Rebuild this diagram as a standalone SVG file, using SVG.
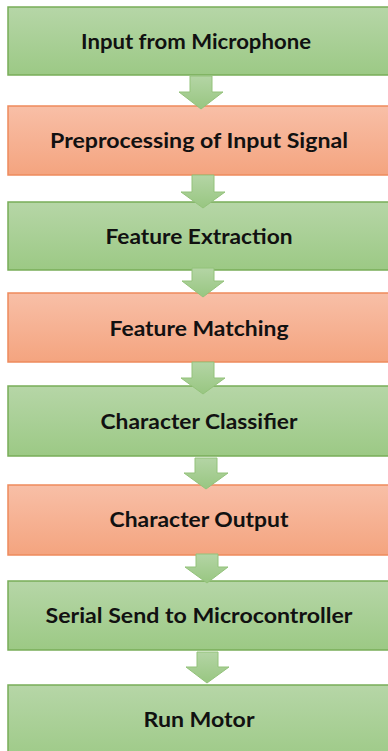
<svg xmlns="http://www.w3.org/2000/svg" width="388" height="751" viewBox="0 0 388 751">
<defs>
<linearGradient id="gG" x1="0" y1="0" x2="0" y2="1">
<stop offset="0" stop-color="#b6d6a7"/>
<stop offset="1" stop-color="#9cc985"/>
</linearGradient>
<linearGradient id="gO" x1="0" y1="0" x2="0" y2="1">
<stop offset="0" stop-color="#f8bfa7"/>
<stop offset="1" stop-color="#f4a47f"/>
</linearGradient>
<linearGradient id="gA" x1="0" y1="0" x2="0" y2="1">
<stop offset="0" stop-color="#b4d5a5"/>
<stop offset="1" stop-color="#98c681"/>
</linearGradient>
</defs>
<style>
.g{fill:url(#gG);stroke:#78ad58;stroke-width:1.5}
.o{fill:url(#gO);stroke:#ee8b5c;stroke-width:1.5}
.t{font-family:Lato,"Open Sans","Liberation Sans",sans-serif;font-weight:bold;font-size:21px;fill:#111;text-anchor:middle}
.a{fill:url(#gA);stroke:#93c27a;stroke-width:1}
</style>
<rect width="388" height="751" fill="#ffffff"/>
<g id="n1"><rect class="g" x="8" y="7" width="390" height="68"/><text class="t" x="196" y="49" textLength="230" lengthAdjust="spacingAndGlyphs">Input from Microphone</text></g>
<g id="n2"><rect class="o" x="8" y="106" width="390" height="69"/><text class="t" x="199" y="148" textLength="298" lengthAdjust="spacingAndGlyphs">Preprocessing of Input Signal</text></g>
<g id="n3"><rect class="g" x="8" y="202" width="390" height="68"/><text class="t" x="199" y="244" textLength="187" lengthAdjust="spacingAndGlyphs">Feature Extraction</text></g>
<g id="n4"><rect class="o" x="8" y="293" width="390" height="69"/><text class="t" x="199" y="336" textLength="179" lengthAdjust="spacingAndGlyphs">Feature Matching</text></g>
<g id="n5"><rect class="g" x="8" y="386" width="390" height="70"/><text class="t" x="199" y="429" textLength="197" lengthAdjust="spacingAndGlyphs">Character Classifier</text></g>
<g id="n6"><rect class="o" x="8" y="485" width="390" height="70"/><text class="t" x="199" y="527" textLength="179" lengthAdjust="spacingAndGlyphs">Character Output</text></g>
<g id="n7"><rect class="g" x="8" y="581" width="390" height="69"/><text class="t" x="199" y="623" textLength="307" lengthAdjust="spacingAndGlyphs">Serial Send to Microcontroller</text></g>
<g id="n8"><rect class="g" x="8" y="685" width="390" height="80"/><text class="t" x="199" y="727" textLength="111" lengthAdjust="spacingAndGlyphs">Run Motor</text></g>
<g id="connectors">
<path class="a" d="M190,76 H212 V92 H223 L201,109 L179,92 H190 Z"/>
<path class="a" d="M192,175 H214 V192 H225 L203,208 L181,192 H192 Z"/>
<path class="a" d="M192,268 H214 V281 H224 L203,297 L182,281 H192 Z"/>
<path class="a" d="M192,362 H214 V378 H225 L203,394 L181,378 H192 Z"/>
<path class="a" d="M195,458 H217 V473 H228 L206,489 L184,473 H195 Z"/>
<path class="a" d="M196,554 H218 V567 H228 L207,583 L185,567 H196 Z"/>
<path class="a" d="M197,652 H218 V667 H229 L207,683 L186,667 H197 Z"/>
</g>
</svg>
